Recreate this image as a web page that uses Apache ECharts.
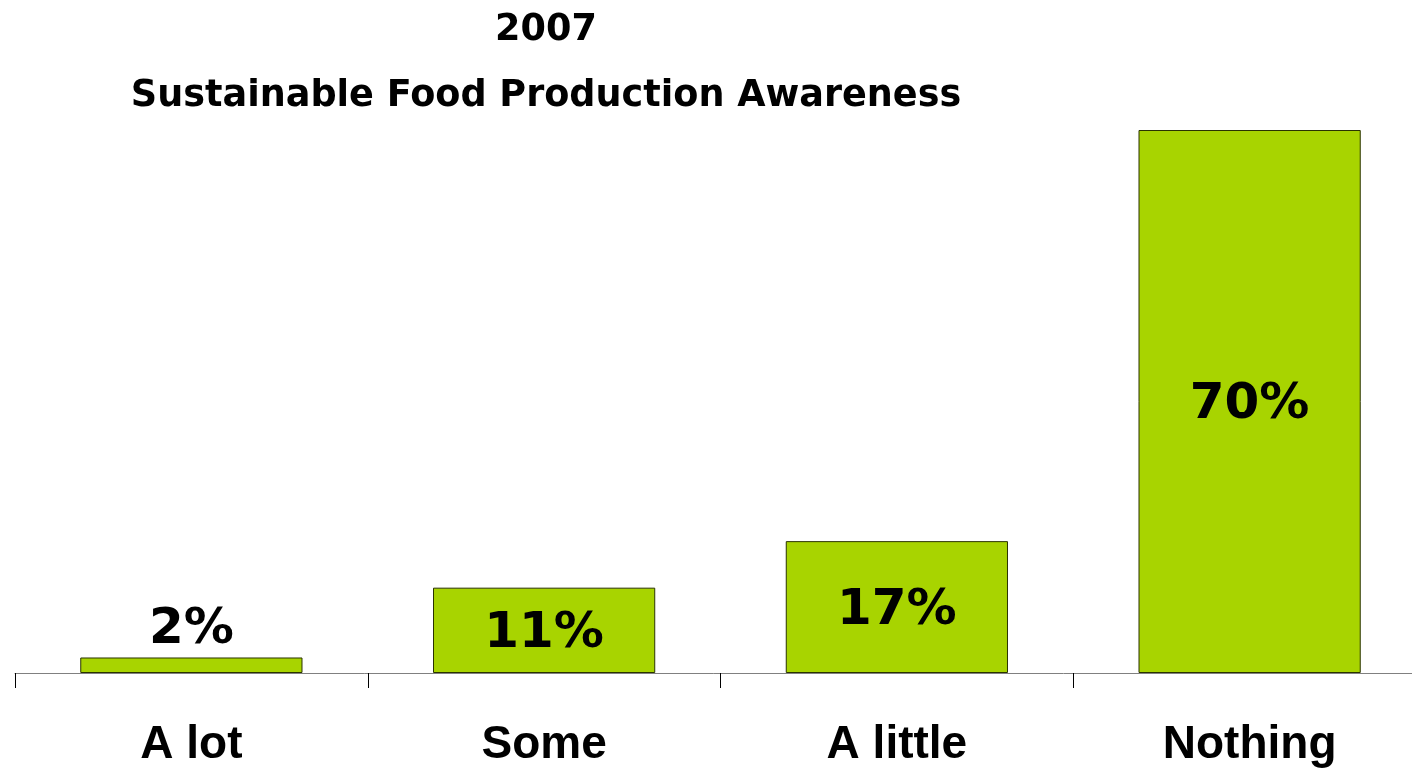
<!DOCTYPE html>
<html><head><meta charset="utf-8">
<script src="https://cdn.jsdelivr.net/npm/echarts@6/dist/echarts.min.js"></script>
<style>html,body{margin:0;padding:0;background:#fff}#c{width:1412px;height:770px}</style>
</head><body><div id="c"></div>
<script>
const titleYear = "2007";
const titleMain = "Sustainable Food Production Awareness";
const categories = ["A lot", "Some", "A little", "Nothing"];
const values = [2, 11, 17, 70];
const labelPositions = ["top", "inside", "inside", "inside"];

const chart = echarts.init(document.getElementById('c'), null, {renderer: 'canvas'});
chart.setOption({
  animation: false,
  backgroundColor: '#ffffff',
  title: [
    {text: titleYear, left: 541, top: 7, textAlign: 'center',
     textStyle: {fontFamily: 'DejaVu Sans', fontWeight: 'bold', fontSize: 36.6, color: '#000'}},
    {text: titleMain, left: 541, top: 73, textAlign: 'center',
     textStyle: {fontFamily: 'DejaVu Sans', fontWeight: 'bold', fontSize: 36.6, color: '#000'}}
  ],
  grid: {left: 15, width: 1411, top: 130, bottom: 97, containLabel: false, outerBoundsMode: 'none'},
  xAxis: {
    type: 'category', data: categories,
    axisLine: {lineStyle: {color: '#808080', width: 1}},
    axisTick: {show: true, length: 15, lineStyle: {color: '#000'}},
    axisLabel: {fontFamily: 'Liberation Sans', fontWeight: 'bold', fontSize: 46, color: '#000', margin: 49}
  },
  yAxis: {type: 'value', min: 0, max: 70, show: false, splitLine: {show: false}},
  series: [{
    type: 'bar', barCategoryGap: '37%',
    data: values.map((v, i) => ({
      value: v,
      label: {position: labelPositions[i], offset: labelPositions[i] === 'inside' ? [0, 4] : [0, 0]}
    })),
    itemStyle: {color: '#a8d400', borderColor: '#2a3300', borderWidth: 1},
    label: {show: true, formatter: '{c}%', fontFamily: 'DejaVu Sans', fontWeight: 'bold', fontSize: 50, color: '#000', distance: 2}
  }]
});
</script></body></html>
